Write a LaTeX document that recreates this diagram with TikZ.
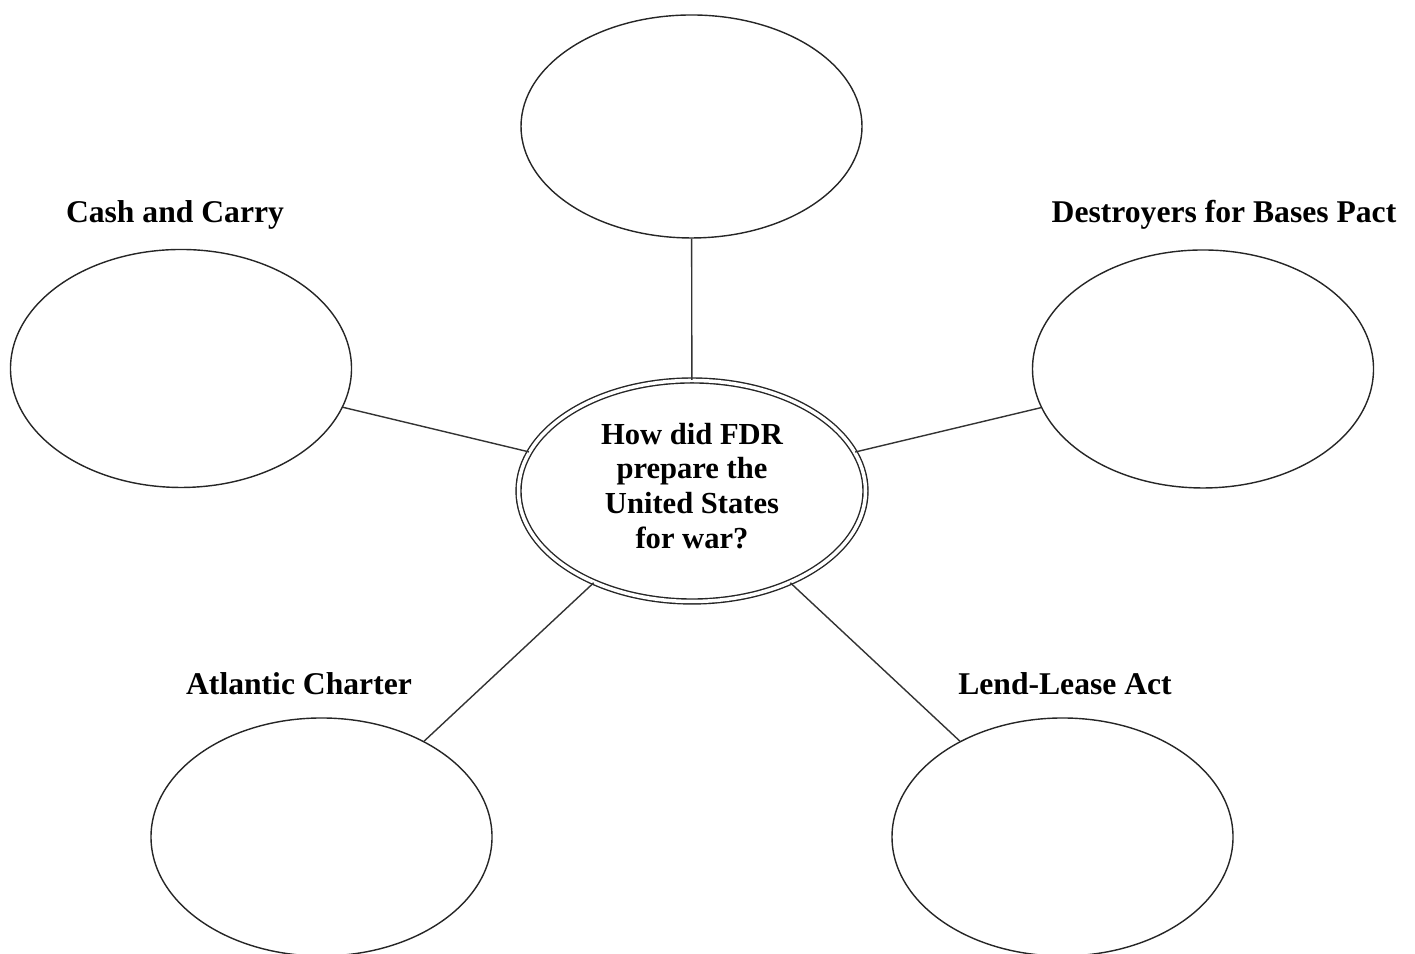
\documentclass[tikz,border=0pt]{standalone}
\usepackage{fontspec}
\setmainfont{Liberation Serif}
\usetikzlibrary{shapes.geometric}

\tikzset{
 bubble/.style={draw=black!85,line width=0.4pt,ellipse,inner sep=0pt,
   minimum width=3.41cm,minimum height=2.38cm},
 hub/.style={bubble,double,double distance=1pt,
   minimum width=3.47cm,minimum height=2.21cm,text depth=3pt,
   font=\fontsize{8.7}{9.9}\selectfont\bfseries,align=center},
 tag/.style={anchor=base,font=\fontsize{9}{10}\selectfont\bfseries},
 spoke/.style={draw=black!80,line width=0.4pt}
}

\begin{document}
\begin{tikzpicture}
\useasboundingbox (0,0) rectangle (14.15,9.54);

% centre question
\node[hub] (Q) at (6.92,4.63) {How did FDR\\prepare the\\United States\\for war?};

% outer bubbles
\node[bubble,minimum height=2.23cm] (T) at (6.915,8.275) {};
\node[bubble] (CC) at (1.81,5.855) {};
\node[bubble] (DB) at (12.03,5.85) {};
\node[bubble] (AC) at (3.215,1.17) {};
\node[bubble] (LL) at (10.625,1.17) {};

% titles
\node[tag] (tCC) at (1.75,7.31) {Cash and Carry};
\node[tag] (tDB) at (12.24,7.31) {Destroyers for Bases Pact};
\node[tag] (tAC) at (2.99,2.59) {Atlantic Charter};
\node[tag] (tLL) at (10.65,2.59) {Lend-Lease Act};

% spokes
\foreach \b in {T,CC,DB,AC,LL}
 \draw[spoke] (Q) -- (\b);
\end{tikzpicture}
\end{document}
